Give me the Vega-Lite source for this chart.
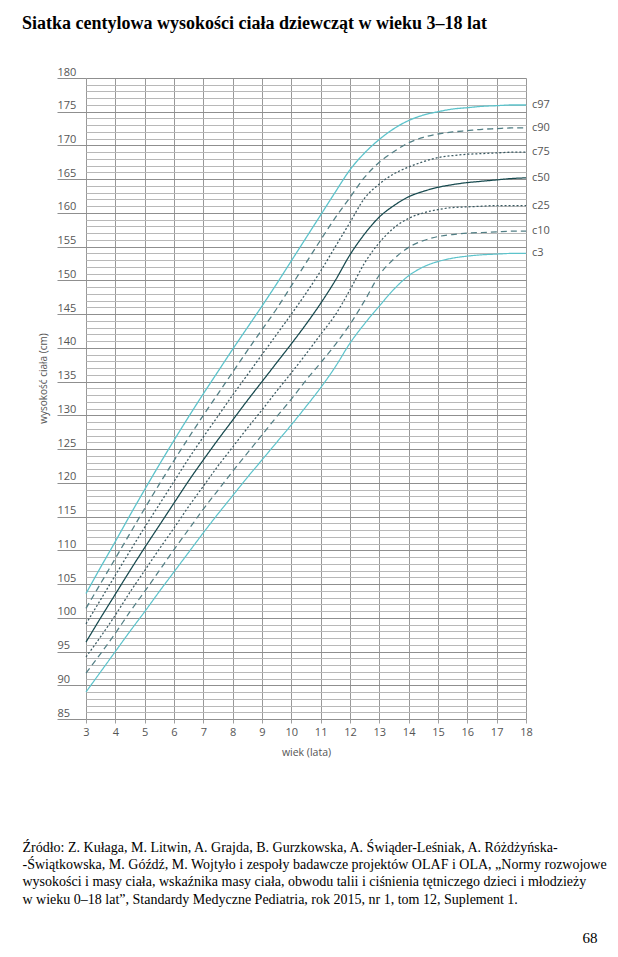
{
  "$schema": "https://vega.github.io/schema/vega-lite/v6.json",
  "width": 440,
  "height": 641,
  "autosize": "none",
  "padding": {"left": 86, "top": 78, "right": 92, "bottom": 238},
  "background": "white",
  "title": {
    "text": "Siatka centylowa wysokości ciała dziewcząt w wieku 3–18 lat",
    "anchor": "start",
    "frame": "group",
    "dx": -64,
    "font": "Liberation Serif",
    "fontSize": 18,
    "fontWeight": "bold",
    "color": "#000000",
    "offset": 33
  },
  "data": {
    "values": [
      {"age": 3, "c97": 103.6, "c90": 101.4, "c75": 99.1, "c50": 96.4, "c25": 94.2, "c10": 91.8, "c3": 89.0},
      {"age": 3.5, "c97": 107.5, "c90": 105.1, "c75": 102.7, "c50": 100.0, "c25": 97.2, "c10": 94.7, "c3": 92.0},
      {"age": 4, "c97": 111.3, "c90": 108.8, "c75": 106.3, "c50": 103.5, "c25": 100.4, "c10": 97.7, "c3": 95.0},
      {"age": 4.5, "c97": 115.2, "c90": 112.5, "c75": 109.9, "c50": 107.0, "c25": 103.8, "c10": 100.9, "c3": 98.0},
      {"age": 5, "c97": 119.0, "c90": 116.2, "c75": 113.4, "c50": 110.4, "c25": 107.0, "c10": 103.9, "c3": 100.9},
      {"age": 5.5, "c97": 122.7, "c90": 119.8, "c75": 116.8, "c50": 113.7, "c25": 110.2, "c10": 107.0, "c3": 103.9},
      {"age": 6, "c97": 126.3, "c90": 123.3, "c75": 120.2, "c50": 117.0, "c25": 113.3, "c10": 110.1, "c3": 106.8},
      {"age": 6.5, "c97": 129.8, "c90": 126.7, "c75": 123.6, "c50": 120.3, "c25": 116.5, "c10": 113.1, "c3": 109.7},
      {"age": 7, "c97": 133.2, "c90": 130.0, "c75": 126.8, "c50": 123.4, "c25": 119.5, "c10": 116.1, "c3": 112.6},
      {"age": 7.5, "c97": 136.5, "c90": 133.2, "c75": 129.9, "c50": 126.4, "c25": 122.5, "c10": 118.9, "c3": 115.4},
      {"age": 8, "c97": 139.8, "c90": 136.4, "c75": 133.0, "c50": 129.3, "c25": 125.3, "c10": 121.7, "c3": 118.1},
      {"age": 8.5, "c97": 143.0, "c90": 139.6, "c75": 136.0, "c50": 132.2, "c25": 128.1, "c10": 124.4, "c3": 120.8},
      {"age": 9, "c97": 146.2, "c90": 142.7, "c75": 139.0, "c50": 135.0, "c25": 130.8, "c10": 127.1, "c3": 123.4},
      {"age": 9.5, "c97": 149.5, "c90": 145.8, "c75": 142.0, "c50": 137.8, "c25": 133.6, "c10": 129.8, "c3": 126.0},
      {"age": 10, "c97": 152.9, "c90": 149.2, "c75": 145.0, "c50": 140.6, "c25": 136.3, "c10": 132.4, "c3": 128.6},
      {"age": 10.5, "c97": 156.3, "c90": 152.6, "c75": 148.1, "c50": 143.5, "c25": 139.1, "c10": 135.2, "c3": 131.3},
      {"age": 11, "c97": 159.7, "c90": 156.0, "c75": 151.4, "c50": 146.6, "c25": 142.0, "c10": 137.8, "c3": 134.1},
      {"age": 11.5, "c97": 163.1, "c90": 159.3, "c75": 155.0, "c50": 150.0, "c25": 144.9, "c10": 140.5, "c3": 137.2},
      {"age": 12, "c97": 166.4, "c90": 162.3, "c75": 158.6, "c50": 153.8, "c25": 148.6, "c10": 143.5, "c3": 140.7},
      {"age": 12.5, "c97": 168.9, "c90": 165.3, "c75": 162.2, "c50": 156.9, "c25": 152.6, "c10": 147.0, "c3": 143.6},
      {"age": 13, "c97": 170.9, "c90": 167.5, "c75": 164.3, "c50": 159.4, "c25": 155.6, "c10": 150.8, "c3": 146.2},
      {"age": 13.5, "c97": 172.5, "c90": 169.1, "c75": 165.8, "c50": 161.1, "c25": 157.8, "c10": 153.2, "c3": 148.7},
      {"age": 14, "c97": 173.7, "c90": 170.4, "c75": 166.8, "c50": 162.4, "c25": 159.2, "c10": 154.9, "c3": 150.7},
      {"age": 14.5, "c97": 174.5, "c90": 171.2, "c75": 167.6, "c50": 163.2, "c25": 160.0, "c10": 155.9, "c3": 152.0},
      {"age": 15, "c97": 175.0, "c90": 171.7, "c75": 168.2, "c50": 163.8, "c25": 160.5, "c10": 156.5, "c3": 152.8},
      {"age": 15.5, "c97": 175.4, "c90": 172.0, "c75": 168.5, "c50": 164.2, "c25": 160.8, "c10": 156.8, "c3": 153.3},
      {"age": 16, "c97": 175.6, "c90": 172.2, "c75": 168.7, "c50": 164.5, "c25": 160.9, "c10": 157.0, "c3": 153.6},
      {"age": 16.5, "c97": 175.8, "c90": 172.4, "c75": 168.8, "c50": 164.7, "c25": 161.0, "c10": 157.1, "c3": 153.8},
      {"age": 17, "c97": 175.9, "c90": 172.5, "c75": 168.9, "c50": 164.9, "c25": 161.1, "c10": 157.2, "c3": 153.9},
      {"age": 17.5, "c97": 176.0, "c90": 172.6, "c75": 169.0, "c50": 165.1, "c25": 161.1, "c10": 157.3, "c3": 154.0},
      {"age": 18, "c97": 176.0, "c90": 172.6, "c75": 169.0, "c50": 165.2, "c25": 161.1, "c10": 157.3, "c3": 154.0}
    ]
  },
  "transform": [
    {"fold": ["c97", "c90", "c75", "c50", "c25", "c10", "c3"], "as": ["p", "h"]}
  ],
  "layer": [
    {
      "mark": {"type": "line", "interpolate": "monotone"},
      "encoding": {
        "x": {
          "field": "age",
          "type": "quantitative",
          "scale": {"domain": [3, 18], "nice": false, "zero": false},
          "axis": {
            "orient": "bottom",
            "values": [3, 3.5, 4, 4.5, 5, 5.5, 6, 6.5, 7, 7.5, 8, 8.5, 9, 9.5, 10, 10.5, 11, 11.5, 12, 12.5, 13, 13.5, 14, 14.5, 15, 15.5, 16, 16.5, 17, 17.5, 18],
            "format": "d",
            "labelExpr": "datum.value % 1 === 0 ? datum.label : ''",
            "labelFlush": false,
            "labelOverlap": false,
            "labelBound": false,
            "grid": true,
            "gridColor": {"condition": {"test": "datum.value % 1 === 0", "value": "#999999"}, "value": "#bbbbbb"},
            "gridWidth": 1,
            "domain": false,
            "tickSize": 4,
            "tickColor": "#a0a0a0",
            "labelFont": "Open Sans",
            "labelFontSize": 11,
            "labelColor": "#555555",
            "labelPadding": 3,
            "title": "wiek (lata)",
            "titleFont": "Open Sans",
            "titleFontSize": 10.5,
            "titleFontWeight": "normal",
            "titleColor": "#555555",
            "titlePadding": 10
          }
        },
        "y": {
          "field": "h",
          "type": "quantitative",
          "scale": {"domain": [85, 180], "nice": false, "zero": false},
          "axis": {
            "orient": "left",
            "values": [85, 86, 87, 88, 89, 90, 91, 92, 93, 94, 95, 96, 97, 98, 99, 100, 101, 102, 103, 104, 105, 106, 107, 108, 109, 110, 111, 112, 113, 114, 115, 116, 117, 118, 119, 120, 121, 122, 123, 124, 125, 126, 127, 128, 129, 130, 131, 132, 133, 134, 135, 136, 137, 138, 139, 140, 141, 142, 143, 144, 145, 146, 147, 148, 149, 150, 151, 152, 153, 154, 155, 156, 157, 158, 159, 160, 161, 162, 163, 164, 165, 166, 167, 168, 169, 170, 171, 172, 173, 174, 175, 176, 177, 178, 179, 180],
            "labelExpr": "datum.value % 5 === 0 ? datum.label : ''",
            "labelOverlap": false,
            "labelBound": false,
            "labelFlush": false,
            "grid": true,
            "gridColor": {"condition": {"test": "datum.value % 5 === 0", "value": "#8f8f8f"}, "value": "#b8b8b8"},
            "gridWidth": 1,
            "domain": false,
            "tickSize": 29,
            "tickColor": "#8f8f8f",
            "tickOpacity": {"condition": {"test": "datum.value % 5 === 0", "value": 1}, "value": 0},
            "labelAlign": "left",
            "labelBaseline": "bottom",
            "labelPadding": 0,
            "labelOffset": -1,
            "labelFont": "Open Sans",
            "labelFontSize": 11,
            "labelColor": "#555555",
            "title": "wysokość ciała (cm)",
            "titleFont": "Open Sans",
            "titleFontSize": 10,
            "titleFontWeight": "normal",
            "titleColor": "#555555",
            "titleAngle": 270,
            "titleX": -43,
            "titleY": 300,
            "titleAlign": "center",
            "titleBaseline": "middle"
          }
        },
        "color": {
          "field": "p",
          "type": "nominal",
          "scale": {
            "domain": ["c97", "c90", "c75", "c50", "c25", "c10", "c3"],
            "range": ["#5cc3cb", "#527f85", "#3b5a62", "#174a4f", "#3b5a62", "#527f85", "#5cc3cb"]
          },
          "legend": null
        },
        "strokeDash": {
          "field": "p",
          "type": "nominal",
          "scale": {
            "domain": ["c97", "c90", "c75", "c50", "c25", "c10", "c3"],
            "range": [[1, 0], [6, 4], [2, 2], [1, 0], [2, 2], [6, 4], [1, 0]]
          },
          "legend": null
        },
        "strokeWidth": {
          "field": "p",
          "type": "nominal",
          "scale": {
            "domain": ["c97", "c90", "c75", "c50", "c25", "c10", "c3"],
            "range": [1.3, 1.2, 1, 2.8, 1, 1.2, 1.3]
          },
          "legend": null
        }
      }
    },
    {
      "transform": [{"filter": "datum.age == 18"}],
      "mark": {"type": "text", "align": "left", "baseline": "middle", "dx": 6, "font": "Open Sans", "fontSize": 11, "color": "#555555"},
      "encoding": {
        "x": {
          "field": "age",
          "type": "quantitative",
          "scale": {"domain": [3, 18], "nice": false, "zero": false},
          "axis": {
            "orient": "top",
            "labels": false,
            "ticks": false,
            "domain": false,
            "grid": false,
            "title": [
              "Źródło: Z. Kułaga, M. Litwin, A. Grajda, B. Gurzkowska, A. Świąder-Leśniak, A. Różdżyńska-",
              "-Świątkowska, M. Góźdź, M. Wojtyło i zespoły badawcze projektów OLAF i OLA, „Normy rozwojowe",
              "wysokości i masy ciała, wskaźnika masy ciała, obwodu talii i ciśnienia tętniczego dzieci i młodzieży",
              "w wieku 0–18 lat”, Standardy Medyczne Pediatria, rok 2015, nr 1, tom 12, Suplement 1."
            ],
            "titleFont": "Liberation Serif",
            "titleFontSize": 14,
            "titleFontWeight": "normal",
            "titleColor": "#000000",
            "titleAngle": 0,
            "titleAlign": "left",
            "titleBaseline": "top",
            "titleLineHeight": 17.4,
            "titleX": -64,
            "titleY": 762
          }
        },
        "y": {
          "field": "h",
          "type": "quantitative",
          "scale": {"domain": [85, 180], "nice": false, "zero": false},
          "axis": {
            "orient": "right",
            "labels": false,
            "ticks": false,
            "domain": false,
            "grid": false,
            "title": "68",
            "titleFont": "Liberation Serif",
            "titleFontSize": 15,
            "titleFontWeight": "normal",
            "titleColor": "#000000",
            "titleAngle": 0,
            "titleAlign": "right",
            "titleBaseline": "alphabetic",
            "titleX": 71,
            "titleY": 864
          }
        },
        "text": {"field": "p", "type": "nominal"}
      }
    }
  ],
  "resolve": {"axis": {"x": "independent", "y": "independent"}},
  "config": {"view": {"stroke": null}}
}
